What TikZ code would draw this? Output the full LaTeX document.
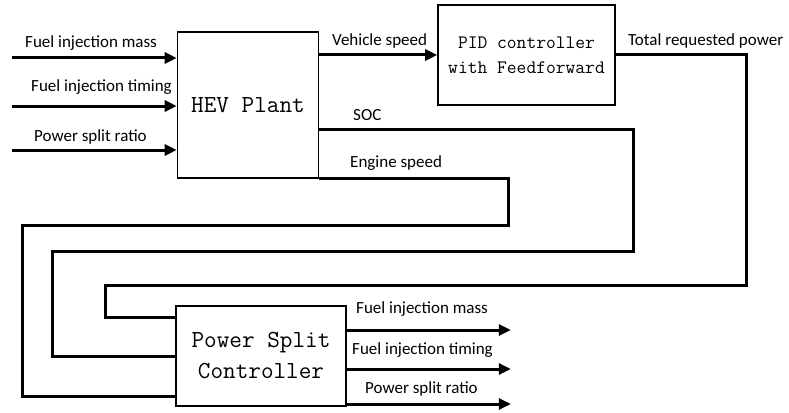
\documentclass[tikz,border=0pt]{standalone}
\usepackage{fontspec}
\setsansfont{Carlito}
\usetikzlibrary{arrows.meta, positioning, calc}

\begin{document}
\begin{tikzpicture}[x=1pt, y=-1pt,
  >={Triangle[length=12pt, width=11pt]},
  block/.style={draw, line width=1.6pt, align=center, inner sep=2pt,
    font=\fontsize{24.5}{31}\selectfont\ttfamily},
  sig/.style={line width=3pt},
  lbl/.style={anchor=base west, inner sep=0pt, font=\fontsize{17}{20}\selectfont\sffamily},
]

\useasboundingbox (0,0) rectangle (789,412);

% Blocks
\node[block, minimum width=141pt, minimum height=146pt] (hev) at (248,105) {HEV Plant};
\node[block, minimum width=177pt, minimum height=100pt,
  font=\fontsize{19}{25}\selectfont\ttfamily] (pid) at (526.5,55)
  {PID controller\\with Feedforward};
\node[block, minimum width=170pt, minimum height=100pt] (psc) at (261,356)
  {Power Split\\Controller};

% Inputs of the plant
\foreach \y/\name in {58/inA, 106/inB, 150/inC}
  \coordinate (\name) at (12,\y);
\draw[sig, ->] (inA) -- (inA -| hev.west);
\draw[sig, ->] (inB) -- (inB -| hev.west);
\draw[sig, ->] (inC) -- (inC -| hev.west);

\node[lbl] (lblInA) at (25,48) {Fuel injection mass};
\node[lbl] (lblInB) at (31,91) {Fuel injection timing};
\node[lbl] (lblInC) at (34,141) {Power split ratio};

% Vehicle speed
\draw[sig, ->] (hev.east |- pid.west) -- (pid.west);
\node[lbl] (lblVs) at (332,46) {Vehicle speed};

% Total requested power
\coordinate (trpA) at (746,285);
\coordinate (trpB) at (105,317);
\draw[sig] (pid.east) -| (trpA) -| (trpB) -- (trpB -| psc.west);
\node[lbl] (lblTrp) at (628,46) {Total requested power};

% SOC
\path (hev.east) ++(0,24) coordinate (socS);
\coordinate (socA) at (633,251);
\coordinate (socB) at (52,356);
\draw[sig] (socS) -| (socA) -| (socB) -- (socB -| psc.west);
\node[lbl] (lblSoc) at (353,120) {SOC};

% Engine speed
\coordinate (engA) at (508,225);
\coordinate (engB) at (22,396);
\draw[sig] (hev.south east) -| (engA) -| (engB) -- (engB -| psc.west);
\node[lbl] (lblEng) at (350,167) {Engine speed};

% Outputs of the controller
\foreach \dy/\name in {-26/outA, 13/outB, 48/outC}
  \path (psc.east) ++(0,\dy) coordinate (\name);
\draw[sig, ->] (outA) -- ++(164,0);
\draw[sig, ->] (outB) -- ++(164,0);
\draw[sig, ->] (outC) -- ++(164,0);

\node[lbl] (lblOutA) at (356,313) {Fuel injection mass};
\node[lbl] (lblOutB) at (352,354) {Fuel injection timing};
\node[lbl] (lblOutC) at (365,393) {Power split ratio};

\end{tikzpicture}
\end{document}
